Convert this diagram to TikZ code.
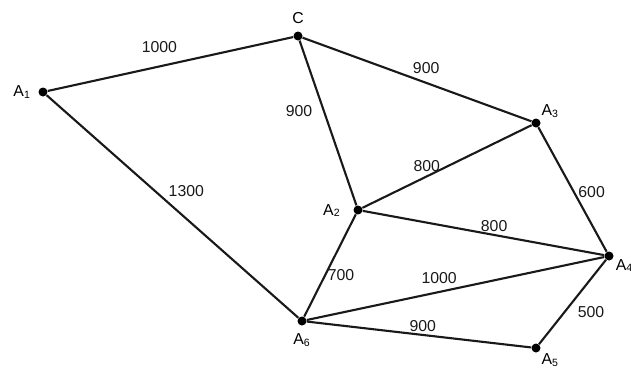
\documentclass[tikz,border=0pt]{standalone}
\usepackage{fontspec}
\setmainfont{Liberation Sans}

\begin{document}
\begin{tikzpicture}[
  x=0.02cm,y=-0.02cm,
  v/.style={circle,fill=black,inner sep=0pt,minimum size=0.18cm},
  e/.style={line width=1.2pt,color=black!90},
  w/.style={font=\fontsize{9}{10}\selectfont,inner sep=1pt},
  every label/.style={font=\fontsize{9}{10}\selectfont,inner sep=1pt}
]
  \clip (0,0) rectangle (631,369);
  % towns
  \node[v,label={[label distance=3pt]left:A\textsubscript{1}}] (a1) at (43,92) {};
  \node[v,label={[label distance=3pt]above:C}] (c) at (298,36) {};
  \node[v,label={[label distance=6pt]182:A\textsubscript{2}}] (a2) at (358,210) {};
  \node[v,label={above right:A\textsubscript{3}}] (a3) at (536,123) {};
  \node[v,label={-12:A\textsubscript{4}}] (a4) at (609,256) {};
  \node[v,label={below right:A\textsubscript{5}}] (a5) at (536,348) {};
  \node[v,label={[label distance=3pt]below:A\textsubscript{6}}] (a6) at (302,321) {};
  % roads
  \draw[e] (a1) -- node[w,pos=.455,above=6pt] {1000} (c);
  \draw[e] (c) -- node[w,pos=.54,above=3.5pt] {900} (a3);
  \draw[e] (c) -- node[w,pos=.425,left=5pt] {900} (a2);
  \draw[e] (a1) -- node[w,pos=.432,right=6pt] {1300} (a6);
  \draw[e] (a2) -- node[w,pos=.38,above=1pt] {800} (a3);
  \draw[e] (a3) -- node[w,pos=.52,right=1pt] {600} (a4);
  \draw[e] (a2) -- node[w,pos=.544,above] {800} (a4);
  \draw[e] (a2) -- node[w,pos=.595,right] {700} (a6);
  \draw[e] (a6) -- node[w,pos=.445,above=3pt] {1000} (a4);
  \draw[e] (a6) -- node[w,pos=.517,above=.5pt] {900} (a5);
  \draw[e] (a4) -- node[w,pos=.62,right=6pt] {500} (a5);
\end{tikzpicture}
\end{document}
